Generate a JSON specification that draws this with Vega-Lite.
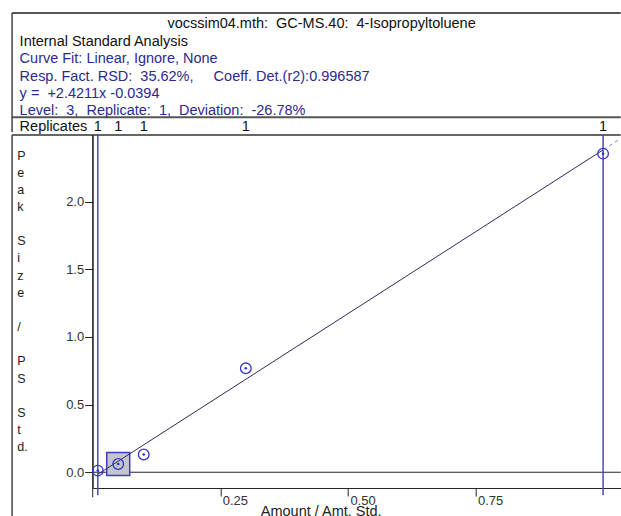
{
  "$schema": "https://vega.github.io/schema/vega-lite/v6.json",
  "padding": {"left": 10.7, "top": 12, "right": 0, "bottom": 0},
  "background": "white",
  "config": {"view": {"stroke": null}, "font": "Liberation Sans", "concat": {"spacing": 0}},
  "resolve": {"scale": {"x": "independent", "y": "independent"}},
  "datasets": {
    "header": [
      {"line": 1, "text": "Internal Standard Analysis", "kind": "black"},
      {"line": 2, "text": "Curve Fit: Linear, Ignore, None", "kind": "blue"},
      {"line": 3, "text": "Resp. Fact. RSD:\u00a0 35.62%,\u00a0\u00a0\u00a0\u00a0 Coeff. Det.(r2):0.996587", "kind": "blue"},
      {"line": 4, "text": "y =\u00a0 +2.4211x -0.0394", "kind": "blue"},
      {"line": 5, "text": "Level:\u00a0 3,\u00a0 Replicate:\u00a0 1,\u00a0 Deviation:\u00a0 -26.78%", "kind": "blue"}
    ],
    "heading": [{"line": 0, "text": "vocssim04.mth:\u00a0 GC-MS.40:\u00a0 4-Isopropyltoluene"}],
    "points": [
      {"amount": 0.01, "ratio": 0.012, "replicates": 1},
      {"amount": 0.05, "ratio": 0.061, "replicates": 1},
      {"amount": 0.1, "ratio": 0.131, "replicates": 1},
      {"amount": 0.3, "ratio": 0.768, "replicates": 1},
      {"amount": 1.0, "ratio": 2.354, "replicates": 1}
    ],
    "selected": [{"amount": 0.05, "ratio": 0.061}],
    "fit": [{"amount": 0.01, "ratio": -0.0152}, {"amount": 1.0, "ratio": 2.3817}],
    "extrap": [{"amount": 1.0, "ratio": 2.3817}, {"amount": 1.0345, "ratio": 2.4651}],
    "range": [{"amount": 0.01}, {"amount": 1.0}],
    "one": [{"k": 1}]
  },
  "vconcat": [
    {
      "width": 528,
      "height": 119,
      "layer": [
        {
          "data": {"name": "one"},
          "mark": {"type": "rule", "color": "#555555", "strokeWidth": 2},
          "encoding": {
            "x": {"datum": -0.158, "type": "quantitative", "scale": {"domain": [0, 1.0345], "nice": false, "zero": false}, "axis": null},
            "x2": {"datum": 1.0345},
            "y": {"datum": -0.885, "type": "quantitative", "scale": {"domain": [-0.885, 5.954], "nice": false, "zero": false, "reverse": true}, "axis": null}
          }
        },
        {
          "data": {"name": "one"},
          "mark": {"type": "rule", "color": "#555555", "strokeWidth": 2},
          "encoding": {
            "x": {"datum": -0.158, "type": "quantitative"},
            "x2": {"datum": 1.0345},
            "y": {"datum": 5.109, "type": "quantitative"}
          }
        },
        {
          "data": {"name": "one"},
          "mark": {"type": "rule", "color": "#444444", "strokeWidth": 1.5},
          "encoding": {
            "x": {"datum": -0.158, "type": "quantitative"},
            "y": {"datum": -0.885, "type": "quantitative"},
            "y2": {"datum": 5.954}
          }
        },
        {
          "data": {"name": "heading"},
          "mark": {"type": "text", "align": "center", "baseline": "alphabetic", "fontSize": 14.5, "color": "#111111"},
          "encoding": {
            "x": {"datum": 0.4484, "type": "quantitative"},
            "y": {"field": "line", "type": "quantitative"},
            "text": {"field": "text"}
          }
        },
        {
          "data": {"name": "header"},
          "mark": {"type": "text", "align": "left", "baseline": "alphabetic", "fontSize": 14.5},
          "encoding": {
            "x": {"datum": -0.1432, "type": "quantitative"},
            "y": {"field": "line", "type": "quantitative"},
            "text": {"field": "text"},
            "color": {"field": "kind", "type": "nominal", "scale": {"domain": ["black", "blue"], "range": ["#111111", "#2b2b8f"]}, "legend": null}
          }
        },
        {
          "data": {"values": [{"label": "Replicates"}]},
          "mark": {"type": "text", "align": "left", "baseline": "alphabetic", "fontSize": 14.5, "color": "#111111"},
          "encoding": {
            "x": {"datum": -0.1432, "type": "quantitative"},
            "y": {"datum": 5.89, "type": "quantitative"},
            "text": {"field": "label"}
          }
        },
        {
          "data": {"name": "points"},
          "mark": {"type": "text", "align": "center", "baseline": "alphabetic", "fontSize": 14.5, "color": "#111111"},
          "encoding": {
            "x": {"field": "amount", "type": "quantitative"},
            "y": {"datum": 5.89, "type": "quantitative"},
            "text": {"field": "replicates"}
          }
        }
      ]
    },
    {
      "width": 528,
      "height": 353,
      "layer": [
        {
          "data": {"name": "one"},
          "mark": {"type": "rule", "color": "#333333", "strokeWidth": 1.5},
          "encoding": {
            "x": {
              "datum": -0.158, "type": "quantitative",
              "scale": {"domain": [0, 1.0345], "nice": false, "zero": false},
              "axis": {
                "values": [0.25, 0.5, 0.75], "format": ".2f", "grid": false,
                "domainColor": "#222222", "tickColor": "#222222", "tickSize": 8,
                "labelAlign": "left", "labelBaseline": "top", "labelPadding": -1.5, "labelOffset": 2,
                "labelFontSize": 13, "labelColor": "#333333", "labelFlush": false,
                "title": "Amount / Amt. Std.", "titleFontSize": 14.5, "titleFontWeight": "normal",
                "titleColor": "#222222", "titleX": 228, "titleY": 28, "titleAlign": "center", "titleBaseline": "alphabetic"
              }
            },
            "x2": {"datum": 1.0345},
            "y": {
              "datum": 2.4917, "type": "quantitative",
              "scale": {"domain": [-0.1164, 2.4917], "nice": false, "zero": false},
              "axis": {
                "values": [0, 0.5, 1, 1.5, 2], "format": ".1f", "grid": false,
                "domainColor": "#222222", "tickColor": "#222222", "tickSize": 8,
                "labelPadding": 1, "labelFontSize": 13, "labelColor": "#333333",
                "title": ["P", "e", "a", "k", "\u2800", "S", "i", "z", "e", "\u2800", "/", "\u2800", "P", "S", "\u2800", "S", "t", "d."],
                "titleAngle": 0, "titleAlign": "left", "titleBaseline": "top",
                "titleX": -76, "titleY": 14, "titleFontSize": 12.5, "titleLineHeight": 17.16,
                "titleFontWeight": "normal", "titleColor": "#222222"
              }
            }
          }
        },
        {
          "data": {"name": "one"},
          "mark": {"type": "rule", "color": "#222222", "strokeWidth": 1},
          "encoding": {"y": {"datum": 0, "type": "quantitative"}}
        },
        {
          "data": {"name": "one"},
          "mark": {"type": "rule", "color": "#444444", "strokeWidth": 1.5},
          "encoding": {
            "x": {"datum": -0.158, "type": "quantitative"},
            "y": {"datum": 2.4917, "type": "quantitative"},
            "y2": {"datum": -0.34}
          }
        },
        {
          "data": {"name": "one"},
          "mark": {"type": "rule", "color": "#222222", "strokeWidth": 1},
          "encoding": {
            "x": {"datum": 0, "type": "quantitative"},
            "y": {"datum": 2.4917, "type": "quantitative"},
            "y2": {"datum": -0.185}
          }
        },
        {
          "data": {"name": "range"},
          "mark": {"type": "rule", "color": "#4b4bb8", "strokeWidth": 1.5},
          "encoding": {
            "x": {"field": "amount", "type": "quantitative"},
            "y": {"datum": 2.4917, "type": "quantitative"},
            "y2": {"datum": -0.17}
          }
        },
        {
          "data": {"name": "selected"},
          "mark": {"type": "square", "size": 529, "filled": true, "fill": "#c5c5cd", "stroke": "#3c3cbc", "strokeWidth": 1.5, "opacity": 1},
          "encoding": {
            "x": {"field": "amount", "type": "quantitative"},
            "y": {"field": "ratio", "type": "quantitative"}
          }
        },
        {
          "data": {"name": "fit"},
          "mark": {"type": "line", "color": "#2a2a5e", "strokeWidth": 1},
          "encoding": {
            "x": {"field": "amount", "type": "quantitative"},
            "y": {"field": "ratio", "type": "quantitative"}
          }
        },
        {
          "data": {"name": "extrap"},
          "mark": {"type": "line", "color": "#8a8aa8", "strokeWidth": 1, "strokeDash": [4, 3]},
          "encoding": {
            "x": {"field": "amount", "type": "quantitative"},
            "y": {"field": "ratio", "type": "quantitative"}
          }
        },
        {
          "data": {"name": "points"},
          "mark": {"type": "point", "shape": "circle", "filled": false, "size": 113, "color": "#3434c8", "strokeWidth": 1.3, "opacity": 1},
          "encoding": {
            "x": {"field": "amount", "type": "quantitative"},
            "y": {"field": "ratio", "type": "quantitative"}
          }
        },
        {
          "data": {"name": "points"},
          "mark": {"type": "circle", "size": 7, "color": "#3434c8", "opacity": 1},
          "encoding": {
            "x": {"field": "amount", "type": "quantitative"},
            "y": {"field": "ratio", "type": "quantitative"}
          }
        }
      ]
    }
  ]
}
